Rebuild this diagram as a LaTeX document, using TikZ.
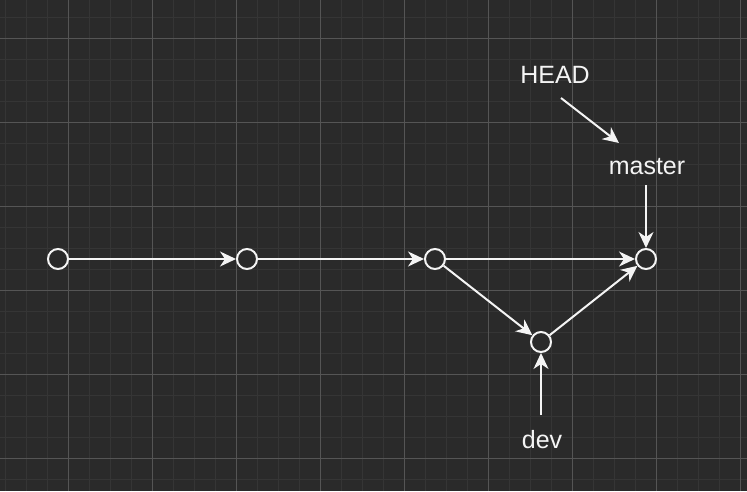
\documentclass[tikz,border=0pt]{standalone}
\usepackage{fontspec}
\setmainfont{Liberation Sans}
\usetikzlibrary{arrows.meta}
\definecolor{bg}{HTML}{2A2A2A}
\definecolor{gminor}{HTML}{353535}
\definecolor{gmajor}{HTML}{555555}
\definecolor{fg}{HTML}{F4F4F4}
\begin{document}
\begin{tikzpicture}[x=1pt,y=-1pt,
  commit/.style={circle,draw=fg,line width=2pt,minimum size=20pt,inner sep=0pt,fill=bg},
  lbl/.style={text=fg,font=\fontsize{25}{29}\selectfont,inner sep=0pt},
  arr/.style={draw=fg,line width=2pt,-{Stealth[length=16pt,width=15pt,inset=5pt]}},
  gridminor/.style={draw=gminor,line width=1pt},
  gridmajor/.style={draw=gmajor,line width=1pt}]
\fill[bg] (0,0) rectangle (747,491);
\useasboundingbox (0,0) rectangle (747,491);
\foreach \x in {5,26,...,747} \draw[gridminor] (\x,0) -- (\x,491);
\foreach \y in {17,38,...,491} \draw[gridminor] (0,\y) -- (747,\y);
\foreach \x in {68,152,...,747} \draw[gridmajor] (\x,0) -- (\x,491);
\foreach \y in {38,122,...,491} \draw[gridmajor] (0,\y) -- (747,\y);

\node[commit] (c1) at (58,259) {};
\node[commit] (c2) at (247,259) {};
\node[commit] (c3) at (435,259) {};
\node[commit] (c4) at (646,259) {};
\node[commit] (c5) at (541,342) {};

\node[lbl] (head) at (555,75) {HEAD};
\node[lbl] (master) at (647,167) {master};
\node[lbl] (dev) at (542,440) {dev};

\draw[arr] (c1) -- (c2);
\draw[arr] (c2) -- (c3);
\draw[arr] (c3) -- (c4);
\draw[arr] (c3) -- (c5);
\draw[arr] (c5) -- (c4);
\draw[arr] ([shift={(6,23)}]head.center) -- ([shift={(-28,-24)}]master.center);
\draw[arr] ([shift={(-1,18)}]master.center) -- (c4);
\draw[arr] ([shift={(-1,-25)}]dev.center) -- (c5);
\end{tikzpicture}
\end{document}
